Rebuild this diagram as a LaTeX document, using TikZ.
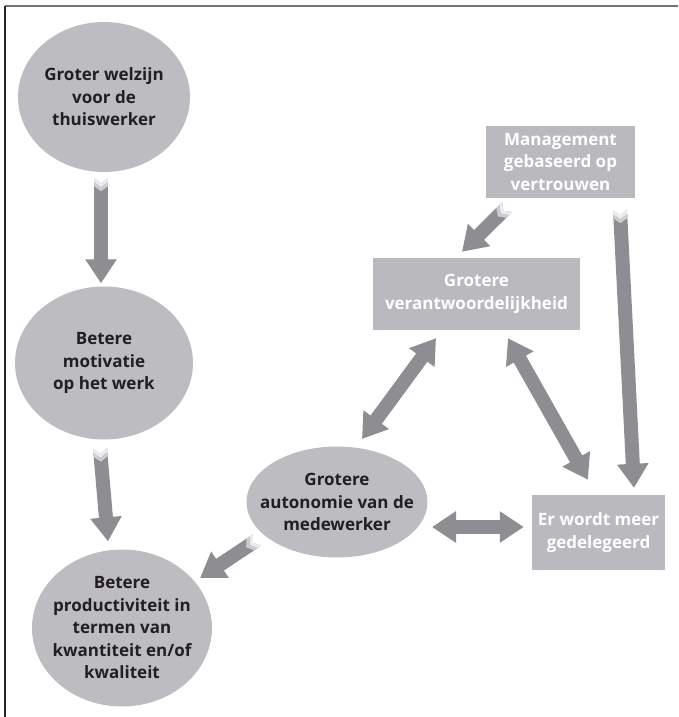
\documentclass[tikz,border=0pt]{standalone}
\usepackage{fontspec}
\setmainfont{Open Sans}
\usetikzlibrary{shapes.geometric,arrows.meta,decorations.markings,calc}
\definecolor{ellgray}{RGB}{189,189,193}
\definecolor{boxgray}{RGB}{185,185,190}
\definecolor{arrgray}{RGB}{141,141,146}
\definecolor{txtdark}{RGB}{35,31,32}
\definecolor{chevA}{RGB}{236,236,238}
\definecolor{chevB}{RGB}{205,205,209}
\newcommand{\tailchev}{%
  \fill[white] (-0.6,-7.6) -- (5,0) -- (-0.6,7.6) -- cycle;
  \fill[chevA] (0,-7) -- (5,0) -- (0,7) -- (4,7) -- (9,0) -- (4,-7) -- cycle;
  \fill[chevB] (4,-7) -- (9,0) -- (4,7) -- (8,7) -- (13,0) -- (8,-7) -- cycle;
}
\begin{document}
\begin{tikzpicture}[x=1pt,y=-1pt,
  every node/.style={font=\fontsize{17}{22.5}\selectfont\bfseries, align=center, inner sep=0pt},
  ell/.style={ellipse, fill=ellgray},
  etext/.style={text=txtdark},
  box/.style={rectangle, fill=boxgray, text=white},
  barrow/.style={draw=arrgray, line width=14pt, -{Triangle[length=24pt,width=30pt]},
    decoration={markings, mark=at position 0 with {\tailchev}}, postaction={decorate}},
  darrow/.style={draw=arrgray, line width=14pt, {Triangle[length=24pt,width=30pt]}-{Triangle[length=24pt,width=30pt]}}
]
\useasboundingbox (0,0) rectangle (678,717);
\draw[line width=2pt, draw=black!55] (5,6) -- (678,6);
\draw[line width=1.3pt, draw=black!85] (5,6) -- (5,717);

\node[ell, minimum width=172pt, minimum height=150pt] (e1) at (104,97) {};
\node[etext] (t1) at (e1.center) {Groter welzijn\\voor de\\thuiswerker};
\node[ell, minimum width=178pt, minimum height=153pt] (e2) at (104,363) {};
\node[etext] (t2) at (e2.center) {Betere\\motivatie\\op het werk};
\node[ell, minimum width=180pt, minimum height=157pt] (e3) at (122,628) {};
\node[etext] (t3) at (e3.center) {Betere\\productiviteit in\\termen van\\kwantiteit en/of\\kwaliteit};
\node[ell, minimum width=181pt, minimum height=111pt] (e4) at (337,502) {};
\node[etext] (t4) at (e4.center) {Grotere\\autonomie van de\\medewerker};

\node[box, minimum width=149pt, minimum height=72pt] (m) at (560.5,162) {Management\\gebaseerd op\\vertrouwen};
\node[box, minimum width=207pt, minimum height=72pt] (g) at (476.5,294) {Grotere\\verantwoordelijkheid};
\node[box, minimum width=133pt, minimum height=75pt] (d) at (598.5,532.5) {Er wordt meer\\gedelegeerd};

\draw[barrow] ($(e1.south)+(-3,6)$) -- ($(e2.north)+(-3,-3)$);
\draw[barrow] ($(e2.south)+(-4,9)$) -- ($(e3.north)+(-14,-8)$);
\draw[barrow] ($(e4.center)+(-80,38)$) -- ($(e3.center)+(78,-50)$);
\draw[barrow] ($(m.south)+(-53.5,9)$) -- ($(g.north)+(-14.5,-6)$);
\draw[barrow] ($(m.south)+(59.5,12)$) -- ($(d.north)+(35.5,-7)$);
\draw[darrow] ($(e4.center)+(25,-63)$) -- ($(g.south)+(-40.5,8)$);
\draw[darrow] ($(g.south)+(31.5,8)$) -- ($(d.north)+(-10.5,-15)$);
\draw[darrow] ($(e4.center)+(95,25)$) -- ($(d.west)+(-8,-5.5)$);
\end{tikzpicture}
\end{document}
